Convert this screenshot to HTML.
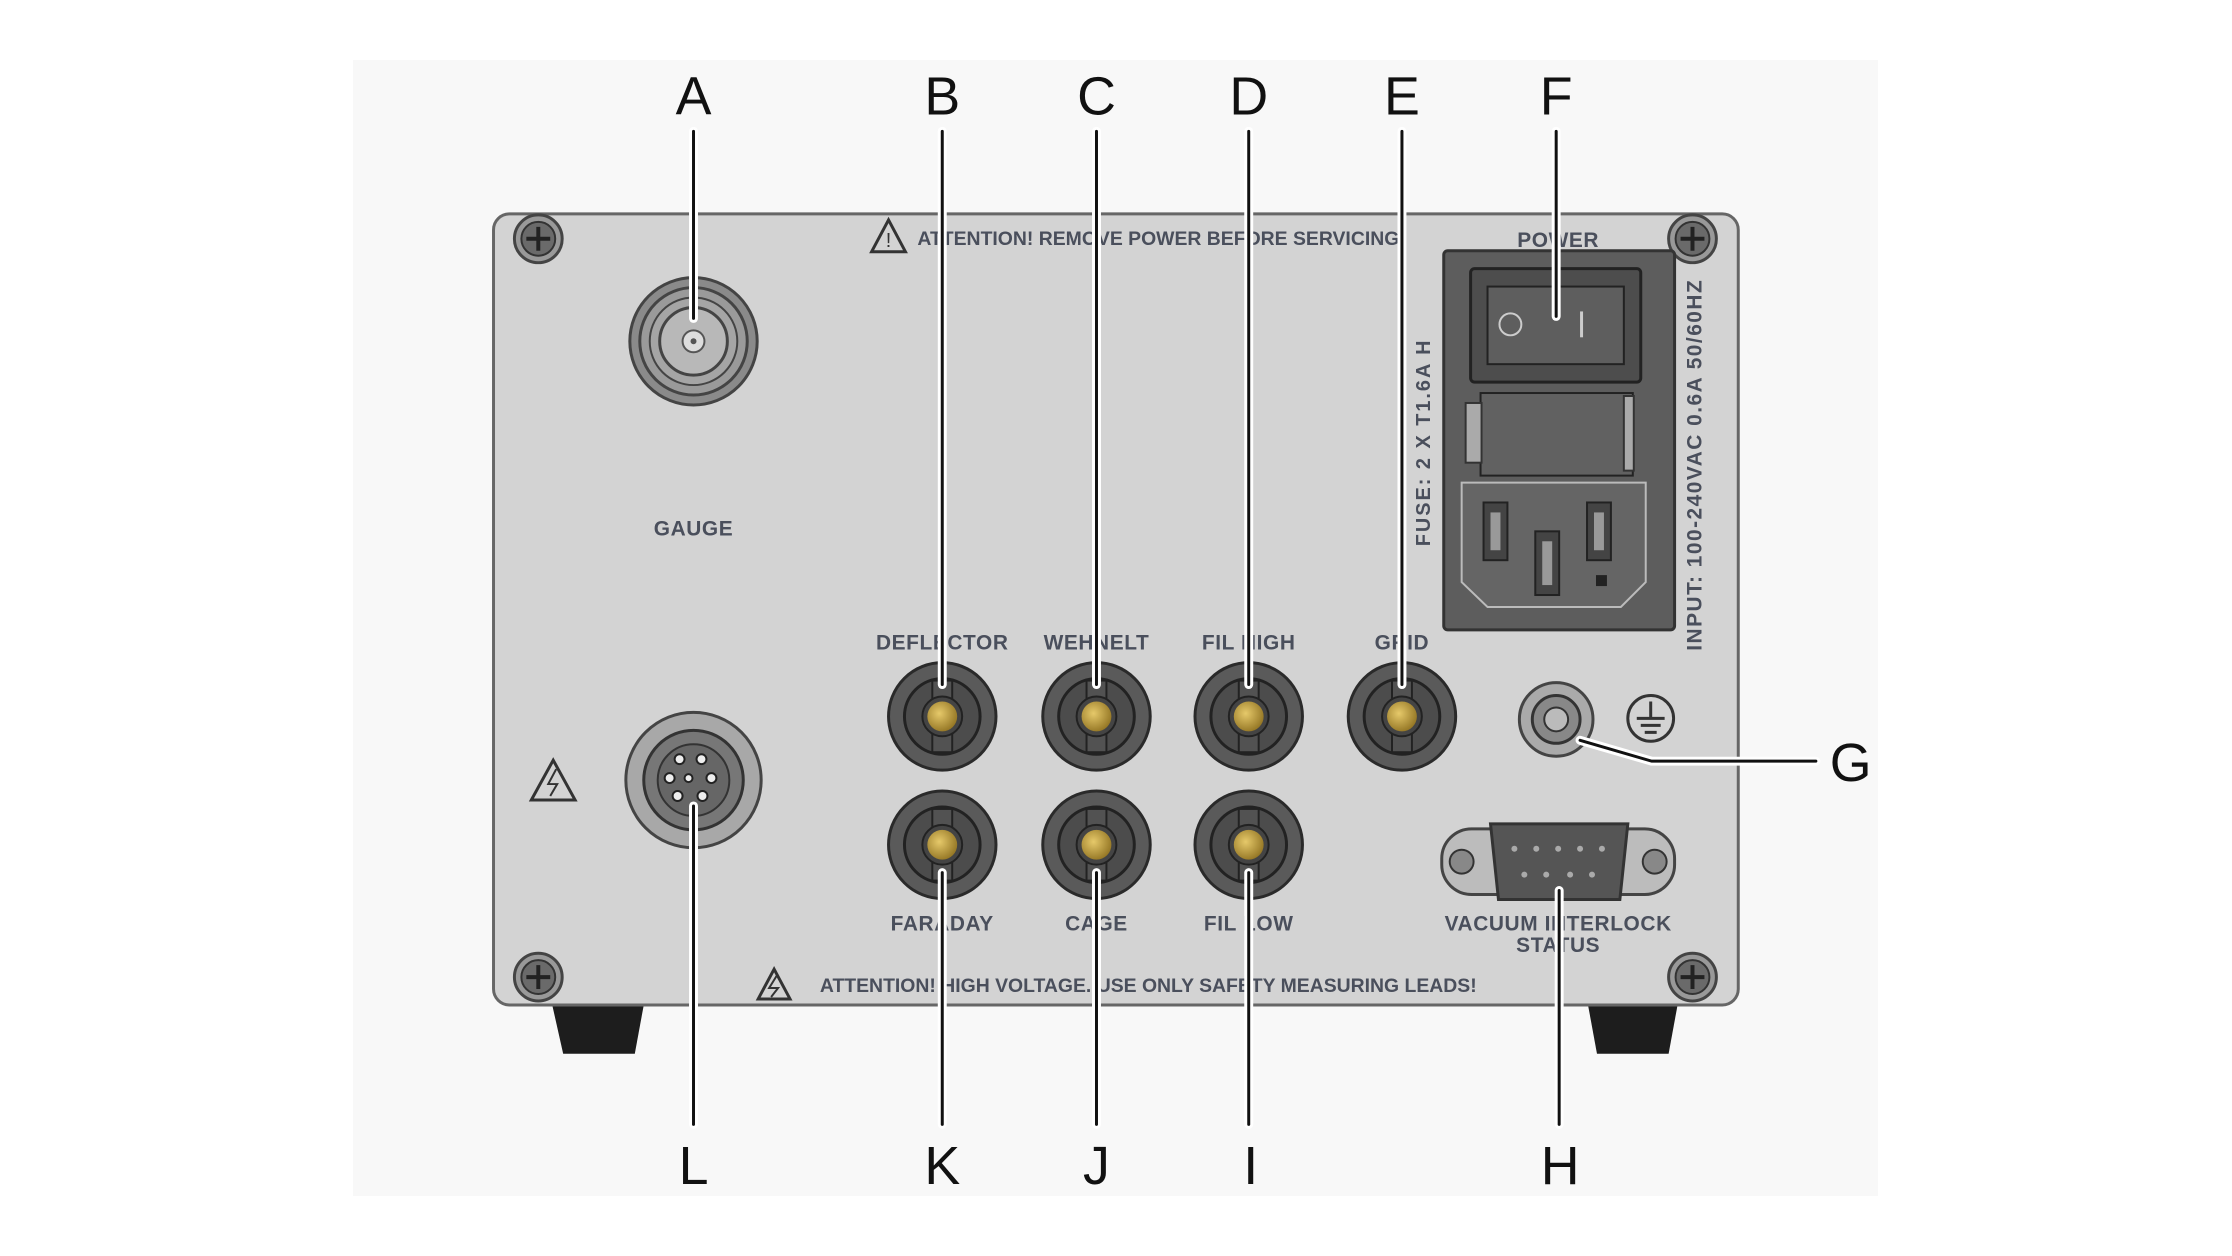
<!DOCTYPE html>
<html><head><meta charset="utf-8"><style>
html,body{margin:0;padding:0;background:#fff;}
svg{display:block;}
text{font-family:"Liberation Sans",sans-serif;}
.lbl{font-size:21px;letter-spacing:0.6px;fill:#4a4f5c;font-weight:bold;text-anchor:middle;}
.big{font-size:54px;fill:#111;text-anchor:middle;}
</style></head><body>
<svg width="2232" height="1256" viewBox="0 0 2232 1256" xmlns="http://www.w3.org/2000/svg">
<defs>
<radialGradient id="brass" cx="0.4" cy="0.4" r="0.7"><stop offset="0" stop-color="#e6c96a"/><stop offset="1" stop-color="#8c6e1e"/></radialGradient>
<g id="screw"><circle r="24" fill="#999" stroke="#444" stroke-width="3"/><circle r="17" fill="#6a6a6a" stroke="#333" stroke-width="2"/><path d="M-12 0H12M0 -12V12" stroke="#222" stroke-width="4"/></g>
<g id="jack"><circle r="54" fill="#5a5a5a" stroke="#2a2a2a" stroke-width="3"/><circle r="38" fill="#4c4c4c" stroke="#222" stroke-width="3"/><rect x="-10" y="-36" width="20" height="72" fill="#525252" stroke="#222" stroke-width="2"/><circle r="20" fill="#444" stroke="#222" stroke-width="2"/><circle r="15" fill="url(#brass)"/></g>
</defs>
<rect x="353" y="60" width="1525" height="1136" fill="#f8f8f8"/>
<g transform="scale(0.995)">
<!-- feet -->
<path d="M555 1010H647L638 1059H566Z" fill="#1d1d1d"/>
<path d="M1596 1010H1686L1677 1059H1605Z" fill="#1d1d1d"/>
<!-- panel -->
<rect x="496" y="215" width="1251" height="795" rx="16" fill="#d3d3d3" stroke="#666" stroke-width="3"/>
<use href="#screw" x="541" y="240"/><use href="#screw" x="1701" y="240"/>
<use href="#screw" x="541" y="982"/><use href="#screw" x="1701" y="982"/>
<!-- warnings -->
<path d="M876 253L893 221L910 253Z" fill="none" stroke="#333" stroke-width="3"/><text x="893" y="248" font-size="20" text-anchor="middle" fill="#333">!</text>
<text x="922" y="246" font-size="19.5" fill="#4a4f5c" font-weight="bold">ATTENTION! REMOVE POWER BEFORE SERVICING</text>
<path d="M762 1004L778 974L794 1004Z" fill="none" stroke="#333" stroke-width="3"/>
<path d="M781 980L773 993L782 993L775 1002" fill="none" stroke="#333" stroke-width="2"/>
<text x="824" y="997" font-size="19.5" fill="#4a4f5c" font-weight="bold">ATTENTION! HIGH VOLTAGE. USE ONLY SAFETY MEASURING LEADS!</text>
<path d="M534 804L556 764L578 804Z" fill="none" stroke="#333" stroke-width="3"/>
<path d="M559 773L551 788L560 788L553 800" fill="none" stroke="#333" stroke-width="2"/>
<!-- BNC -->
<circle cx="697" cy="343" r="64" fill="#8a8a8a" stroke="#444" stroke-width="3"/>
<circle cx="697" cy="343" r="54" fill="#9a9a9a" stroke="#444" stroke-width="3"/>
<circle cx="697" cy="343" r="44" fill="#a5a5a5" stroke="#444" stroke-width="2"/>
<circle cx="697" cy="343" r="34" fill="#b8b8b8" stroke="#444" stroke-width="3"/>
<circle cx="697" cy="343" r="11" fill="#ddd" stroke="#555" stroke-width="2"/>
<circle cx="697" cy="343" r="3" fill="#555"/>
<text x="697" y="538" class="lbl">GAUGE</text>
<!-- L connector -->
<circle cx="697" cy="784" r="68" fill="#a8a8a8" stroke="#444" stroke-width="3"/>
<circle cx="697" cy="784" r="50" fill="#777" stroke="#333" stroke-width="3"/>
<circle cx="697" cy="784" r="36" fill="#666" stroke="#333" stroke-width="2"/>
<g fill="#eee" stroke="#222" stroke-width="2">
<circle cx="683" cy="763" r="5"/><circle cx="705" cy="763" r="5"/><circle cx="673" cy="782" r="5"/><circle cx="692" cy="782" r="4"/><circle cx="715" cy="782" r="5"/><circle cx="681" cy="800" r="5"/><circle cx="706" cy="800" r="5"/></g>
<!-- jacks -->
<use href="#jack" x="947" y="720"/><use href="#jack" x="1102" y="720"/><use href="#jack" x="1255" y="720"/><use href="#jack" x="1409" y="720"/>
<use href="#jack" x="947" y="849"/><use href="#jack" x="1102" y="849"/><use href="#jack" x="1255" y="849"/>
<text x="947" y="653" class="lbl">DEFLECTOR</text><text x="1102" y="653" class="lbl">WEHNELT</text><text x="1255" y="653" class="lbl">FIL HIGH</text><text x="1409" y="653" class="lbl">GRID</text>
<text x="947" y="935" class="lbl">FARADAY</text><text x="1102" y="935" class="lbl">CAGE</text><text x="1255" y="935" class="lbl">FIL LOW</text>
<text x="1566" y="935" class="lbl">VACUUM INTERLOCK</text><text x="1566" y="957" class="lbl">STATUS</text>
<!-- ground -->
<circle cx="1564" cy="723" r="37" fill="#aaa" stroke="#444" stroke-width="3"/>
<circle cx="1564" cy="723" r="24" fill="#888" stroke="#333" stroke-width="3"/>
<circle cx="1564" cy="723" r="12" fill="#bbb" stroke="#333" stroke-width="2"/>
<circle cx="1659" cy="722" r="23" fill="none" stroke="#333" stroke-width="3"/>
<path d="M1659 705V722M1645 722H1673M1649 729H1669M1653 736H1665" stroke="#333" stroke-width="3"/>
<!-- DSUB -->
<rect x="1449" y="833" width="234" height="66" rx="30" fill="#bcbcbc" stroke="#444" stroke-width="3"/>
<circle cx="1469" cy="866" r="12" fill="#888" stroke="#333" stroke-width="2"/><circle cx="1663" cy="866" r="12" fill="#888" stroke="#333" stroke-width="2"/>
<path d="M1498 828H1636L1628 904H1506Z" fill="#555" stroke="#333" stroke-width="3"/>
<g fill="#aaa"><circle cx="1522" cy="853" r="3"/><circle cx="1544" cy="853" r="3"/><circle cx="1566" cy="853" r="3"/><circle cx="1588" cy="853" r="3"/><circle cx="1610" cy="853" r="3"/><circle cx="1532" cy="879" r="3"/><circle cx="1554" cy="879" r="3"/><circle cx="1578" cy="879" r="3"/><circle cx="1600" cy="879" r="3"/></g>
<!-- power module -->
<text x="1566" y="248" class="lbl">POWER</text>
<rect x="1451" y="252" width="232" height="381" rx="4" fill="#5d5d5d" stroke="#333" stroke-width="3"/>
<rect x="1478" y="270" width="171" height="114" rx="4" fill="#4d4d4d" stroke="#222" stroke-width="3"/>
<rect x="1495" y="288" width="137" height="78" fill="#5e5e5e" stroke="#222" stroke-width="2"/>
<circle cx="1518" cy="326" r="11" fill="none" stroke="#ccc" stroke-width="2"/>
<rect x="1588" y="313" width="3" height="26" fill="#ccc"/>
<rect x="1488" y="395" width="153" height="83" fill="#616161" stroke="#222" stroke-width="2"/>
<rect x="1473" y="405" width="16" height="60" fill="#aaa" stroke="#333" stroke-width="2"/>
<rect x="1632" y="398" width="10" height="75" fill="#aaa" stroke="#333" stroke-width="2"/>
<path d="M1469 485H1654V585L1629 610H1495L1469 585Z" fill="#656565" stroke="#bbb" stroke-width="2"/>
<rect x="1491" y="505" width="24" height="58" fill="#444" stroke="#222" stroke-width="2"/><rect x="1498" y="515" width="10" height="38" fill="#999"/>
<rect x="1595" y="505" width="24" height="58" fill="#444" stroke="#222" stroke-width="2"/><rect x="1602" y="515" width="10" height="38" fill="#999"/>
<rect x="1543" y="534" width="24" height="64" fill="#444" stroke="#222" stroke-width="2"/><rect x="1550" y="544" width="10" height="44" fill="#999"/>
<rect x="1604" y="578" width="11" height="11" fill="#222"/>
<text transform="translate(1437,549) rotate(-90)" font-size="20" letter-spacing="2" font-weight="bold" fill="#4a4f5c">FUSE: 2 X T1.6A H</text>
<text transform="translate(1710,654) rotate(-90)" font-size="21" letter-spacing="1.5" font-weight="bold" fill="#4a4f5c">INPUT: 100-240VAC 0.6A 50/60HZ</text>
<!-- leader lines -->
<g fill="none" stroke-linecap="round">
<g stroke="#fff" stroke-width="9">
<path d="M697 132V320"/><path d="M947 132V688"/><path d="M1102 132V688"/><path d="M1255 132V688"/><path d="M1409 132V688"/><path d="M1564 132V318"/>
<path d="M697 810V1130"/><path d="M947 877V1130"/><path d="M1102 877V1130"/><path d="M1255 877V1130"/><path d="M1567 895V1130"/>
<path d="M1588 744L1660 765H1825"/></g>
<g stroke="#111" stroke-width="3">
<path d="M697 132V320"/><path d="M947 132V688"/><path d="M1102 132V688"/><path d="M1255 132V688"/><path d="M1409 132V688"/><path d="M1564 132V318"/>
<path d="M697 810V1130"/><path d="M947 877V1130"/><path d="M1102 877V1130"/><path d="M1255 877V1130"/><path d="M1567 895V1130"/>
<path d="M1588 744L1660 765H1825"/></g></g>
<!-- letters -->
<text x="697" y="115" class="big">A</text><text x="947" y="115" class="big">B</text><text x="1102" y="115" class="big">C</text><text x="1255" y="115" class="big">D</text><text x="1409" y="115" class="big">E</text><text x="1564" y="115" class="big">F</text>
<text x="1860" y="785" class="big">G</text>
<text x="697" y="1190" class="big">L</text><text x="947" y="1190" class="big">K</text><text x="1102" y="1190" class="big">J</text><text x="1257" y="1190" class="big">I</text><text x="1568" y="1190" class="big">H</text>
</g>
</svg>
</body></html>
